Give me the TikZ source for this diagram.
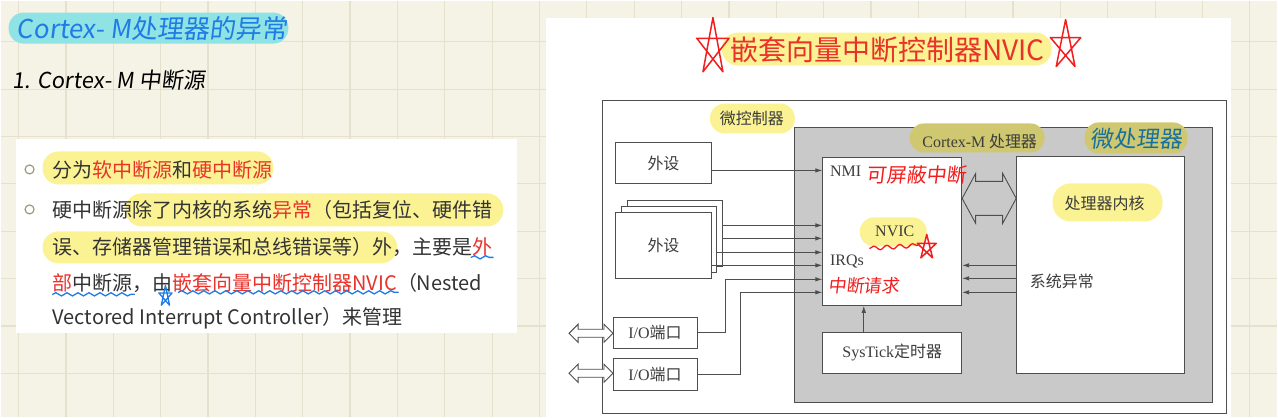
\documentclass[tikz,border=0pt]{standalone}
\usepackage{fontspec}
\setmainfont{Noto Sans CJK SC}
\newfontfamily\serifen{Liberation Serif}
\newfontfamily\hand[FakeSlant=0.12]{Noto Sans CJK SC}
\usepackage{tikz}
\usetikzlibrary{arrows.meta,decorations.pathmorphing}
\definecolor{paper}{HTML}{F5F2E6}
\definecolor{gridc}{HTML}{E6E1CF}
\definecolor{hlyellow}{HTML}{FBF293}
\definecolor{hlolive}{HTML}{CFC870}
\definecolor{pillcyan}{HTML}{8FE3E4}
\definecolor{handblue}{HTML}{1F7BE6}
\definecolor{handteal}{HTML}{17709E}
\definecolor{handred}{HTML}{F21E1E}
\definecolor{txtred}{HTML}{E8322A}
\definecolor{txtdark}{HTML}{333333}
\definecolor{bulletc}{HTML}{9C9A78}
\definecolor{linec}{HTML}{4E4E4E}
\definecolor{diagtext}{HTML}{3C3C3C}
\definecolor{cpugray}{HTML}{C9C9C9}

\begin{document}
\begin{tikzpicture}[x=1pt,y=-1pt,
    para/.style={anchor=west, inner sep=0pt, text=txtdark, font=\fontsize{20}{24}\selectfont},
    box/.style={draw=linec, fill=white, line width=0.9pt, inner sep=0pt,
                text=diagtext, font=\fontsize{16}{18}\selectfont},
    lbl/.style={inner sep=0pt, text=diagtext, font=\fontsize{16}{18}\selectfont},
    frame/.style={draw=linec, line width=0.9pt},
    sig/.style={draw=linec, line width=0.9pt, -{Latex[length=7pt,width=4.5pt]}},
    hl/.style={fill=hlyellow, rounded corners=#1}, hl/.default=15pt,
    wavy/.style={line width=1.3pt, line cap=round, decorate,
                 decoration={snake, amplitude=1.6pt, segment length=11pt}},
    scribble/.style={line width=1.5pt, line join=round, line cap=round}]

  % ================= background: squared note paper =================
  \fill[paper] (0,0) rectangle (1278,417);
  \foreach \i in {0,...,26}{
    \draw[gridc, line width=1.2pt] (18+47.4*\i,0) -- (18+47.4*\i,417);}
  \foreach \j in {1,...,8}{
    \draw[gridc, line width=1.2pt] (0,-6.2+47.4*\j) -- (1278,-6.2+47.4*\j);}
  \useasboundingbox (0,0) rectangle (1278,417);

  % hand drawn star, used a few times
  \def\handstar{(-90:1) -- (54:1) -- (198:1) -- (-18:1) -- (126:1) -- cycle}

  % ================= left: the handwritten notes =================
  \fill[pillcyan, rounded corners=15pt] (8,12) rectangle (288,43);
  \node[anchor=west, inner sep=0pt, text=handblue, font=\hand\fontsize{26}{28}\selectfont]
    (heading) at (16,28) {Cortex- M处理器的异常};
  \node[anchor=west, inner sep=0pt, text=black, font=\hand\fontsize{22}{24}\selectfont]
    (subhead) at (12,80) {1. Cortex- M 中断源};

  % ---- card with the two bullets ----
  \fill[white] (15,139) rectangle (517,333);
  \fill[hl=16pt] (42,151) rectangle (273,184);
  \fill[hl=16pt] (125,193) rectangle (503,226);
  \fill[hl=16pt] (42,231) rectangle (397,263);
  \foreach \y in {169,209}{
    \draw[bulletc, line width=1.2pt] (29,\y) circle (4.5);}
  \node[para] (bulA)  at (52,169) {分为{\color{txtred}软中断源}和{\color{txtred}硬中断源}};
  \node[para] (bulB1) at (52,209) {硬中断源除了内核的系统{\color{txtred}异常}（包括复位、硬件错};
  \node[para] (bulB2) at (52,247) {误、存储器管理错误和总线错误等）外，主要是{\color{txtred}外}};
  \node[para] (bulB3) at (52,283) {{\color{txtred}部}中断源，由{\color{txtred}嵌套向量中断控制器NVIC}（Nested};
  \node[para] (bulB4) at (52,318) {Vectored Interrupt Controller）来管理};
  % blue pen marks
  \draw[wavy, handblue] (471,257) -- (493,257);
  \draw[wavy, handblue] (52,294) -- (134,294);
  \draw[wavy, handblue] (178,292) -- (398,292);
  \begin{scope}[shift={(165,296)}, xscale=7, yscale=11]
    \draw[scribble, handblue, line width=1.3pt] \handstar;
  \end{scope}

  % ================= right: the NVIC figure =================
  \fill[white] (546,17) rectangle (1232,417);
  \fill[hl=16pt] (722,32) rectangle (1052,65);
  \node[inner sep=0pt, text=txtred, font=\fontsize{28}{30}\selectfont]
    (title) at (888,49) {嵌套向量中断控制器NVIC};
  \begin{scope}[shift={(713,47)}, xscale=17, yscale=30]
    \draw[scribble, handred] \handstar;
  \end{scope}
  \begin{scope}[shift={(1066,45)}, xscale=16, yscale=26]
    \draw[scribble, handred] \handstar;
  \end{scope}

  % ---- microcontroller frame ----
  \draw[frame] (602,100) rectangle (1227,413);
  \fill[hl=15pt] (710,103) rectangle (795,133);
  \node[lbl] (mculbl) at (752,118) {微控制器};

  % ---- Cortex-M processor, the grey block ----
  \draw[frame, fill=cpugray] (795,127) rectangle (1213,402);
  \fill[hlolive, rounded corners=14pt] (910,123) rectangle (1045,152);
  \node[lbl] (cpulbl) at (980,141) {{\serifen Cortex-M} 处理器};
  \fill[hlolive, rounded corners=14pt] (1085,122) rectangle (1188,153);
  \node[inner sep=0pt, text=handteal, font=\hand\fontsize{23}{25}\selectfont]
    (cpunote) at (1137,138) {微处理器};

  % ---- boxes ----
  \node[box, minimum width=97, minimum height=41] (per1) at (663.5,162.5) {外设};
  \node[box, minimum width=96, minimum height=66] (perC) at (675,233) {};
  \node[box, minimum width=96, minimum height=66] (perB) at (669,239) {};
  \node[box, minimum width=97, minimum height=66] (perA) at (663.5,245) {外设};
  \node[box, minimum width=84, minimum height=31] (io1) at (655,332.5) {{\serifen I/O}端口};
  \node[box, minimum width=84, minimum height=32] (io2) at (655,374) {{\serifen I/O}端口};
  \node[box, minimum width=139, minimum height=148] (nvic) at (892.5,231) {};
  \node[box, minimum width=139, minimum height=41] (systick) at (892.5,352.5) {{\serifen SysTick}定时器};
  \node[box, minimum width=168, minimum height=217] (core) at (1101,264.5) {};

  % ---- labels inside the NVIC and the core ----
  \node[lbl, anchor=west] (nmi) at (830,171) {\serifen NMI};
  \node[lbl, anchor=west] (irqs) at (830,261) {\serifen IRQs};
  \fill[hl=14pt] (860,217) rectangle (927,246);
  \node[lbl] (nviclbl) at (895,231) {\serifen NVIC};
  \fill[hl=18pt] (1053,183) rectangle (1163,221);
  \node[lbl] (corelbl) at (1105,203) {处理器内核};
  \node[lbl, anchor=west] (sysexc) at (1030,281) {系统异常};

  % ---- red pen notes ----
  \node[anchor=west, inner sep=0pt, text=handred, font=\hand\fontsize{20}{22}\selectfont]
    (nminote) at (867,174) {可屏蔽中断};
  \node[anchor=west, inner sep=0pt, text=handred, font=\hand\fontsize{18}{20}\selectfont]
    (irqnote) at (828,285) {中断请求};
  \draw[wavy, handred, decoration={snake, amplitude=2pt, segment length=13pt}] (870,248) -- (918,245);
  \begin{scope}[shift={(927,247)}, xscale=10, yscale=13]
    \draw[scribble, handred] \handstar;
  \end{scope}

  % ---- signal lines into the NVIC ----
  \draw[sig] ([yshift=-7.5pt]per1.east) -- (nvic.west |- 0,170);
  \foreach \y/\src in {225/perC, 238/perC, 252/perB, 265/perA}{
    \draw[sig] (\src.east |- 0,\y) -- (nvic.west |- 0,\y);}
  \draw[sig] (io1.east) -- ++(28,0) |- (nvic.west |- 0,279);
  \draw[sig] (io2.east) -- ++(43,0) |- (nvic.west |- 0,292);
  \foreach \y in {265,278,292}{
    \draw[sig] (core.west |- 0,\y) -- (nvic.east |- 0,\y);}
  \draw[sig] (systick.north -| 864,0) -- (nvic.south -| 864,0);

  % ---- hollow double arrows: I/O pins and the core bus ----
  \foreach \y in {333,373}{
    \draw[frame, fill=white, line join=miter]
      (569,\y) -- (578,\y-9) -- (578,\y-4) -- (604,\y-4) -- (604,\y-9) -- (613,\y)
      -- (604,\y+9) -- (604,\y+4) -- (578,\y+4) -- (578,\y+9) -- cycle;}
  \draw[frame, fill=cpugray, line join=miter]
    (nvic.east |- 0,198) -- (976,173) -- (976,181) -- (1003,181) -- (1003,173)
    -- (core.west |- 0,198) -- (1003,223) -- (1003,215) -- (976,215) -- (976,223) -- cycle;
\end{tikzpicture}
\end{document}
